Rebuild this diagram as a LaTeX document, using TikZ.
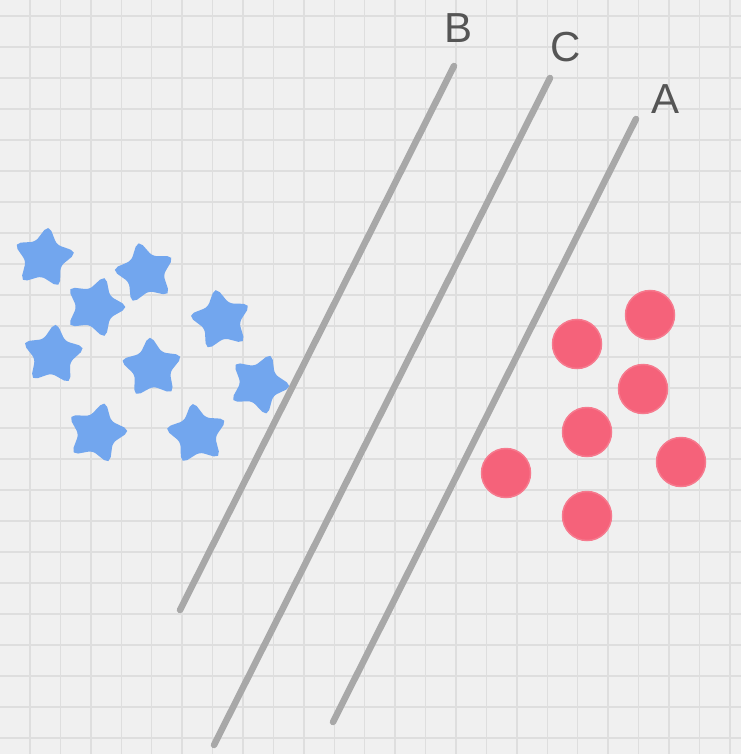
\documentclass[tikz,border=0pt]{standalone}
\usepackage{fontspec}
\setmainfont{Liberation Sans}
\usetikzlibrary{shapes.geometric}
\definecolor{bg}{HTML}{F0F0F0}
\definecolor{gridc}{HTML}{DEDEDE}
\definecolor{linec}{HTML}{A8A8A8}
\definecolor{starc}{HTML}{72A6EE}
\definecolor{dotc}{HTML}{F5627A}
\definecolor{labc}{HTML}{555555}
\tikzset{
  sep/.style={draw=linec, line width=6.5pt, line cap=round},
  starnode/.style={star, star points=5, star point ratio=1.85, minimum size=62pt, inner sep=0pt, fill=starc, draw=starc, line width=3pt, rounded corners=5pt},
  dotnode/.style={circle, minimum size=49pt, inner sep=0pt, fill=dotc, draw=dotc!85!white, line width=1.5pt},
  lab/.style={text=labc, font=\fontsize{42}{42}\selectfont, inner sep=0pt}
}
\begin{document}
\begin{tikzpicture}[x=1pt,y=-1pt]
\fill[bg] (0,0) rectangle (741,754);
\useasboundingbox (0,0) rectangle (741,754);
% grid
\foreach \k in {0,...,23} \draw[gridc, line width=1.5pt] ({30+30.43*\k},0) -- ({30+30.43*\k},754);
\foreach \k in {0,...,12} \draw[gridc, line width=1.5pt] (0,{16+31*\k}) -- (741,{16+31*\k});
\foreach \k in {1,...,11} \draw[gridc, line width=1.5pt] (0,{397+31*\k}) -- (741,{397+31*\k});
% separating lines
\coordinate (Bt) at (454,66); \coordinate (Bb) at (180,610);
\coordinate (Ct) at (550,78); \coordinate (Cb) at (214,745);
\coordinate (At) at (636,119); \coordinate (Ab) at (333,722);
\draw[sep] (Bt) -- (Bb);
\draw[sep] (Ct) -- (Cb);
\draw[sep] (At) -- (Ab);
% labels
\node[lab] (lB) at (458,28) {B};
\node[lab] (lC) at (566,47) {C};
\node[lab] (lA) at (665,99) {A};
% stars
\node[starnode, rotate=-8] (s1) at (44,258) {};
\node[starnode, rotate=12] (s2) at (145,273) {};
\node[starnode, rotate=-18] (s3) at (95,307) {};
\node[starnode, rotate=10] (s4) at (221,320) {};
\node[starnode, rotate=-5] (s5) at (53,355) {};
\node[starnode, rotate=4] (s6) at (152,368) {};
\node[starnode, rotate=-22] (s7) at (259,384) {};
\node[starnode, rotate=-14] (s8) at (97,433) {};
\node[starnode, rotate=8] (s9) at (197,434) {};
% dots
\node[dotnode] (d1) at (650,315) {};
\node[dotnode] (d2) at (577,344) {};
\node[dotnode] (d3) at (643,389) {};
\node[dotnode] (d4) at (587,432) {};
\node[dotnode] (d5) at (506,473) {};
\node[dotnode] (d6) at (681,462) {};
\node[dotnode] (d7) at (587,516) {};
\end{tikzpicture}
\end{document}
